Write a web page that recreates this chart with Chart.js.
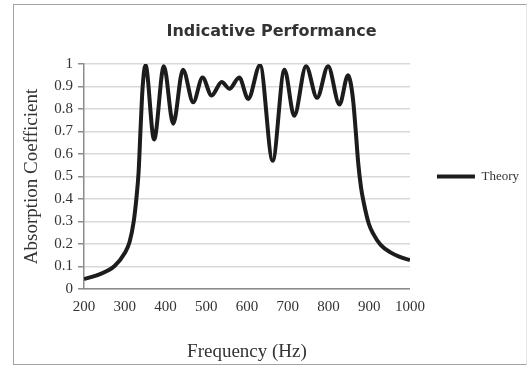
<!DOCTYPE html>
<html lang="en">
<head>
    <meta charset="UTF-8">
    <title>Indicative Performance</title>
    <script src="https://cdn.jsdelivr.net/npm/chart.js"></script>
    <style>
        body { margin: 0; background: #fff; }
        #wrap { position: relative; width: 527px; height: 367px; }
        #frame {
            position: absolute; left: 13px; top: 4px; width: 512px; height: 359px;
            border: 1.5px solid #a3a3a3; border-right-color: #e6e6e6;
        }
        #chart { position: absolute; left: 0; top: 0; }
    </style>
</head>
<body>
<div id="wrap">
    <div id="frame"></div>
    <canvas id="chart" width="527" height="367"></canvas>
</div>
<script>
    // Frequency (Hz) and absorption coefficient
    const frequency = [200, 238, 275, 300, 312, 322, 329, 334, 339, 344, 351,
        372, 396, 419, 443, 468, 491, 513, 538, 557, 581, 603, 632,
        663, 692, 716, 745, 772, 799, 827, 848,
        854, 861, 867, 873, 880, 887, 899, 910, 928, 952, 975, 1000];
    const theory = [0.044, 0.065, 0.102, 0.16, 0.21, 0.30, 0.41, 0.52, 0.72, 0.90, 0.995,
        0.665, 0.99, 0.735, 0.975, 0.83, 0.94, 0.86, 0.92, 0.89, 0.94, 0.845, 0.995,
        0.57, 0.975, 0.77, 0.99, 0.85, 0.99, 0.82, 0.95,
        0.92, 0.83, 0.70, 0.56, 0.45, 0.38, 0.29, 0.245, 0.196, 0.163, 0.143, 0.128];

    const xTicks = [200, 300, 400, 500, 600, 700, 800, 900, 1000];
    const xTickLabels = ['200', '300', '400', '500', '600', '700', '800', '900', '1000'];
    const yTicks = [0, 0.1, 0.2, 0.3, 0.4, 0.5, 0.6, 0.7, 0.8, 0.9, 1];
    const yTickLabels = ['0', '0.1', '0.2', '0.3', '0.4', '0.5', '0.6', '0.7', '0.8', '0.9', '1'];

    const serif = 'Liberation Serif';

    const ctx = document.getElementById('chart').getContext('2d');
    new Chart(ctx, {
        type: 'line',
        data: {
            datasets: [{
                label: 'Theory',
                data: frequency.map((f, i) => ({ x: f, y: theory[i] })),
                borderColor: '#1c1c1c',
                backgroundColor: '#1c1c1c',
                borderWidth: 4,
                pointRadius: 0,
                pointStyle: 'line',
                cubicInterpolationMode: 'monotone',
                fill: false
            }]
        },
        options: {
            responsive: false,
            animation: false,
            layout: { padding: { left: 14, right: -2, top: 5, bottom: 3.6 } },
            plugins: {
                title: {
                    display: true,
                    text: 'Indicative Performance',
                    color: '#333',
                    font: { family: 'DejaVu Sans', size: 16, weight: 'bold' },
                    padding: { top: 17.4, bottom: 22.4 }
                },
                legend: {
                    position: 'right',
                    fullSize: false,
                    labels: {
                        usePointStyle: true,
                        pointStyleWidth: 38,
                        padding: 27,
                        color: '#333',
                        font: { family: serif, size: 13 }
                    }
                },
                tooltip: { enabled: false }
            },
            scales: {
                x: {
                    type: 'linear',
                    min: 200,
                    max: 1000,
                    afterBuildTicks: axis => { axis.ticks = xTicks.map(v => ({ value: v })); },
                    afterFit: axis => { axis.height = 74.4; },
                    ticks: {
                        color: '#333',
                        padding: 9,
                        font: { family: serif, size: 15 },
                        callback: (v, i) => xTickLabels[i]
                    },
                    grid: { display: false, drawTicks: false },
                    border: { color: '#8c8c8c', width: 1.5 },
                    title: {
                        display: true,
                        text: 'Frequency (Hz)',
                        color: '#333',
                        font: { family: serif, size: 19 },
                        padding: { top: 10, bottom: 0 }
                    }
                },
                y: {
                    min: 0,
                    max: 1,
                    afterBuildTicks: axis => { axis.ticks = yTicks.map(v => ({ value: v })); },
                    afterFit: axis => { axis.width = 70; },
                    ticks: {
                        color: '#333',
                        padding: 5,
                        font: { family: serif, size: 15 },
                        callback: (v, i) => yTickLabels[i]
                    },
                    grid: { color: '#d9d9d9', lineWidth: 1.5, tickColor: '#8c8c8c', tickLength: 6 },
                    border: { color: '#8c8c8c', width: 1.5 },
                    title: {
                        display: true,
                        text: 'Absorption Coefficient',
                        color: '#333',
                        font: { family: serif, size: 19 },
                        padding: { top: 6.3, bottom: 10 }
                    }
                }
            }
        }
    });
</script>
</body>
</html>
